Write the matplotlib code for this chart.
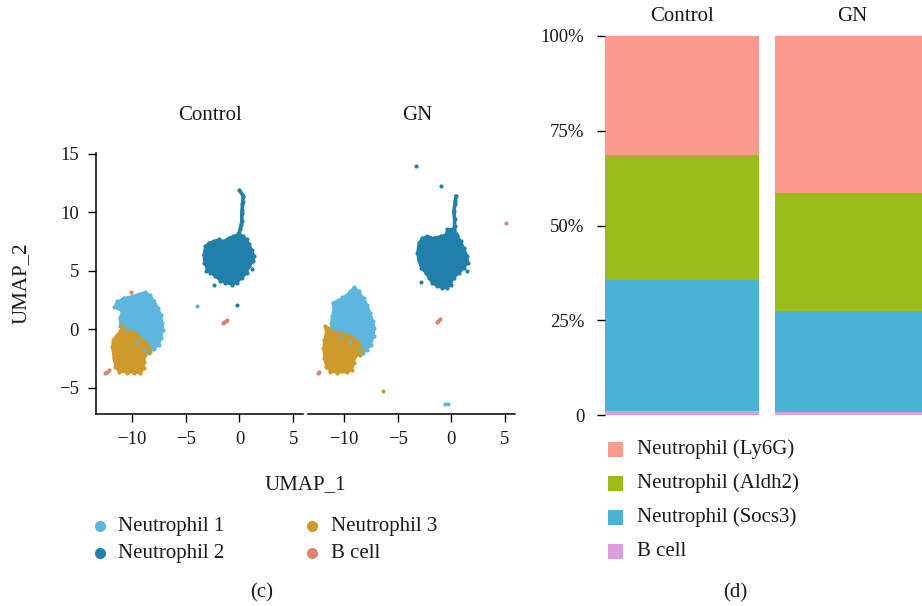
import matplotlib
matplotlib.use("Agg")
import matplotlib.pyplot as plt
from matplotlib.patches import Polygon, Rectangle

plt.rcParams['font.family'] = ['Liberation Serif', 'DejaVu Serif']
plt.rcParams['axes.unicode_minus'] = True

# ---------------- UMAP cluster data ----------------
cluster_names = ["Neutrophil 1", "Neutrophil 2", "Neutrophil 3", "B cell"]
cluster_colors = ["#5DB6E0", "#2180A9", "#CE9A2B", "#DE846D"]

# Control: dense regions of each cluster (UMAP_1, UMAP_2)
control_neut1_region = [(-11.66, 1.91), (-11.41, 2.34), (-10.79, 2.68), (-10.02, 2.83),
                        (-9.40, 3.02), (-8.77, 3.20), (-8.31, 2.91), (-7.93, 2.40),
                        (-7.59, 1.83), (-7.31, 1.26), (-7.19, 0.54), (-7.13, -0.03),
                        (-7.31, -0.75), (-7.53, -1.37), (-8.00, -1.65), (-8.47, -2.03),
                        (-8.93, -1.74), (-9.55, -1.03), (-10.48, -0.17), (-11.10, 0.26),
                        (-11.16, 0.97), (-10.95, 1.54)]
control_neut2_region = [(-0.56, 7.97), (-0.09, 8.17), (0.37, 7.97), (0.69, 7.69),
                        (0.93, 7.26), (1.15, 6.83), (1.37, 6.26), (1.30, 5.83),
                        (0.93, 5.40), (0.69, 4.83), (0.22, 4.40), (-0.24, 3.97),
                        (-0.71, 3.83), (-1.33, 3.97), (-1.80, 4.17), (-2.26, 4.54),
                        (-2.73, 4.83), (-3.03, 5.12), (-3.26, 5.68), (-3.35, 6.40),
                        (-3.19, 7.11), (-2.88, 7.40), (-2.42, 7.54), (-1.95, 7.69),
                        (-1.49, 7.54), (-1.02, 7.82)]
control_neut2_tail = [(0.00, 11.88), (0.37, 11.40), (0.30, 10.90), (0.28, 10.68),
                      (0.25, 10.20), (0.22, 9.97), (0.22, 9.25), (0.15, 8.90),
                      (0.07, 8.60), (-0.05, 8.20)]
control_neut3_region = [(-10.95, 0.40), (-10.79, -0.03), (-10.33, -0.11), (-9.70, -0.32),
                        (-9.24, -0.75), (-8.77, -1.03), (-8.47, -1.46), (-8.37, -1.89),
                        (-8.77, -2.17), (-8.87, -2.74), (-8.93, -3.32), (-9.24, -3.74),
                        (-9.86, -3.68), (-10.48, -3.68), (-11.26, -3.60), (-11.56, -3.17),
                        (-11.72, -2.46), (-11.87, -1.46), (-11.78, -0.88), (-11.41, -0.45),
                        (-11.10, -0.17)]
control_neut1_cells = [(-3.96, 2.00), (-11.45, 2.40), (-10.80, 2.72)]
control_neut2_cells = [(-2.33, 3.83), (1.21, 5.14), (-0.19, 2.08), (-3.08, 5.00)]
control_neut3_cells = []
control_bcell_cells = [(-1.50, 0.55), (-1.40, 0.66), (-1.28, 0.75), (-1.18, 0.82),
                       (-12.50, -3.74), (-12.35, -3.60), (-12.15, -3.45), (-10.10, 3.20)]

# GN: dense regions of each cluster
gn_neut1_region = [(-11.03, 2.26), (-10.65, 2.46), (-10.19, 2.68), (-9.72, 2.97),
                   (-9.41, 3.26), (-9.04, 3.63), (-8.64, 3.26), (-8.17, 2.68),
                   (-7.85, 2.11), (-7.54, 1.40), (-7.29, 0.69), (-7.17, 0.11),
                   (-7.23, -0.60), (-7.48, -1.31), (-7.85, -1.74), (-8.26, -2.03),
                   (-8.64, -1.74), (-9.41, -1.03), (-10.35, -0.45), (-11.12, -0.03),
                   (-11.21, 0.54), (-11.12, 1.11), (-10.97, 1.69)]
gn_neut2_region = [(-0.37, 8.54), (0.24, 8.63), (0.56, 8.11), (0.87, 7.54),
                   (1.18, 6.97), (1.50, 6.26), (1.55, 5.68), (1.18, 5.25),
                   (0.71, 4.83), (0.24, 4.40), (-0.07, 3.83), (-0.37, 3.54),
                   (-0.84, 3.54), (-1.31, 3.68), (-1.78, 3.97), (-2.09, 4.40),
                   (-2.40, 4.83), (-2.80, 5.25), (-3.03, 5.83), (-3.18, 6.54),
                   (-3.03, 7.40), (-2.71, 7.82), (-2.24, 7.97), (-1.63, 7.82),
                   (-1.00, 7.97), (-0.53, 8.11)]
gn_neut2_tail = [(0.43, 11.40), (0.38, 11.00), (0.34, 10.68), (0.24, 10.11),
                 (0.31, 9.40), (0.31, 8.83), (0.25, 8.50)]
gn_neut3_region = [(-11.75, 0.26), (-11.44, 0.11), (-10.97, -0.17), (-10.35, -0.32),
                   (-9.72, -0.45), (-9.10, -0.75), (-8.64, -1.17), (-8.32, -1.74),
                   (-8.54, -2.17), (-8.94, -2.31), (-9.10, -2.89), (-9.25, -3.46),
                   (-9.72, -3.66), (-10.65, -3.68), (-11.28, -3.60), (-11.66, -3.17),
                   (-11.84, -2.46), (-11.91, -1.60), (-11.84, -0.88), (-11.66, -0.32)]
gn_neut1_cells = [(-0.55, -6.37), (-0.35, -6.35), (-11.05, 2.30), (-10.20, 2.75)]
gn_neut2_cells = [(-3.31, 13.99), (-1.00, 12.23), (-2.80, 4.03), (1.43, 4.97)]
gn_neut3_cells = [(-6.36, -5.26)]
gn_bcell_cells = [(5.14, 9.06), (-1.37, 0.60), (-1.22, 0.74), (-1.05, 0.88),
                  (-12.45, -3.72), (-12.30, -3.60)]

# ---------------- composition data ----------------
groups = ["Control", "GN"]
composition_names = ["B cell", "Neutrophil (Socs3)", "Neutrophil (Aldh2)", "Neutrophil (Ly6G)"]
composition_colors = ["#DE9EDD", "#4BB3D7", "#9ABD18", "#FC9A8D"]
control_pct = [1.0, 34.7, 32.9, 31.4]
gn_pct = [0.8, 26.6, 31.2, 41.4]
pct_ticks = [0, 25, 50, 75, 100]
pct_tick_labels = ["0", "25%", "50%", "75%", "100%"]

umap_x_ticks = [-10, -5, 0, 5]
umap_y_ticks = [-5, 0, 5, 10, 15]

W, H = 922, 606
fig = plt.figure(figsize=(W / 100, H / 100), dpi=100)


def box(left, top, right, bottom):
    return [left / W, 1 - bottom / H, (right - left) / W, (bottom - top) / H]


def draw_umap(ax, regions, tails, cells):
    # regions / tails / cells ordered as cluster_names
    order = [0, 2, 1, 3]
    for k in order:
        col = cluster_colors[k]
        reg = regions[k]
        if reg:
            ax.add_patch(Polygon(reg, closed=True, facecolor=col, edgecolor=col,
                                 linewidth=1.6, joinstyle='round', zorder=2))
            xs, ys = zip(*reg)
            ax.scatter(xs, ys, s=9, color=col, linewidths=0, zorder=3)
        tl = tails[k]
        if tl:
            xs, ys = zip(*tl)
            ax.plot(xs, ys, color=col, lw=2.6, solid_capstyle='round', zorder=3)
            ax.scatter(xs, ys, s=9, color=col, linewidths=0, zorder=3)
        pts = cells[k]
        if pts:
            xs, ys = zip(*pts)
            ax.scatter(xs, ys, s=9, color=col, linewidths=0, zorder=4)
    ax.set_xlim(-13.4, 5.95)
    ax.set_ylim(-7.25, 15.05)
    ax.set_xticks(umap_x_ticks)
    ax.set_yticks(umap_y_ticks)
    ax.tick_params(direction='out', length=6, width=1.0, pad=6,
                   labelsize=13.5, colors='black', labelcolor='#1a1a1a')
    for s in ['top', 'right']:
        ax.spines[s].set_visible(False)
    for s in ['left', 'bottom']:
        ax.spines[s].set_linewidth(1.1)
        ax.spines[s].set_color('black')


ax_c = fig.add_axes(box(95.7, 153.3, 303.3, 414.3))
draw_umap(ax_c,
          [control_neut1_region, control_neut2_region, control_neut3_region, []],
          [[], control_neut2_tail, [], []],
          [control_neut1_cells, control_neut2_cells, control_neut3_cells, control_bcell_cells])

ax_g = fig.add_axes(box(307.5, 153.3, 515.1, 414.3))
draw_umap(ax_g,
          [gn_neut1_region, gn_neut2_region, gn_neut3_region, []],
          [[], gn_neut2_tail, [], []],
          [gn_neut1_cells, gn_neut2_cells, gn_neut3_cells, gn_bcell_cells])
ax_g.spines['left'].set_visible(False)
ax_g.tick_params(axis='y', left=False, labelleft=False)

# ---------------- stacked composition bars ----------------
bar_axes = [fig.add_axes(box(605, 36, 759, 415)),
            fig.add_axes(box(775, 36, 929, 415))]
for ax, vals in zip(bar_axes, [control_pct, gn_pct]):
    bottom = 0.0
    for v, col in zip(vals, composition_colors):
        ax.bar([0], [v], bottom=bottom, width=1.0, color=col, linewidth=0)
        bottom += v
    ax.set_xlim(-0.5, 0.5)
    ax.set_ylim(0, 100)
    ax.set_xticks([])
    for s in ax.spines.values():
        s.set_visible(False)
bar_axes[0].set_yticks(pct_ticks)
bar_axes[0].set_yticklabels(pct_tick_labels)
bar_axes[0].tick_params(axis='y', direction='out', length=6, width=1.0, pad=9,
                        labelsize=13.5, colors='black', labelcolor='#1a1a1a')
bar_axes[1].set_yticks([])

# ---------------- text, titles and legends ----------------
ov = fig.add_axes([0, 0, 1, 1], zorder=-1)
ov.set_xlim(0, W)
ov.set_ylim(H, 0)
ov.axis('off')

txt = dict(fontsize=15, color='#1a1a1a', va='center', ha='center')
ov.text(210.3, 115.5, groups[0], **txt)
ov.text(417.0, 115.5, groups[1], **txt)
ov.text(682.0, 16.5, groups[0], **txt)
ov.text(852.0, 16.5, groups[1], **txt)
ov.text(305.0, 485.0, "UMAP_1", **txt)
ov.text(21.5, 283.0, "UMAP_2", rotation=90, **txt)
ov.text(262.0, 592.5, "(c)", **txt)
ov.text(735.0, 592.5, "(d)", **txt)

# cluster legend (two columns)
leg_pos = [(100.0, 526.0), (100.0, 553.3), (312.3, 526.0), (312.3, 553.3)]
for (lx, ly), name, col in zip(leg_pos, cluster_names, cluster_colors):
    ov.plot([lx], [ly], 'o', markersize=8, color=col, markeredgewidth=0)
    ov.text(lx + 18.3, ly, name, fontsize=15, color='#1a1a1a', va='center', ha='left')

# composition legend (top to bottom: Ly6G, Aldh2, Socs3, B cell)
comp_rows = [449.2, 483.2, 517.5, 551.5]
for ly, name, col in zip(comp_rows, composition_names[::-1], composition_colors[::-1]):
    ov.add_patch(Rectangle((608.3, ly - 7.5), 15, 15, facecolor=col, edgecolor='none'))
    ov.text(637.3, ly, name, fontsize=15, color='#1a1a1a', va='center', ha='left')

fig.savefig("out.png", dpi=100)
